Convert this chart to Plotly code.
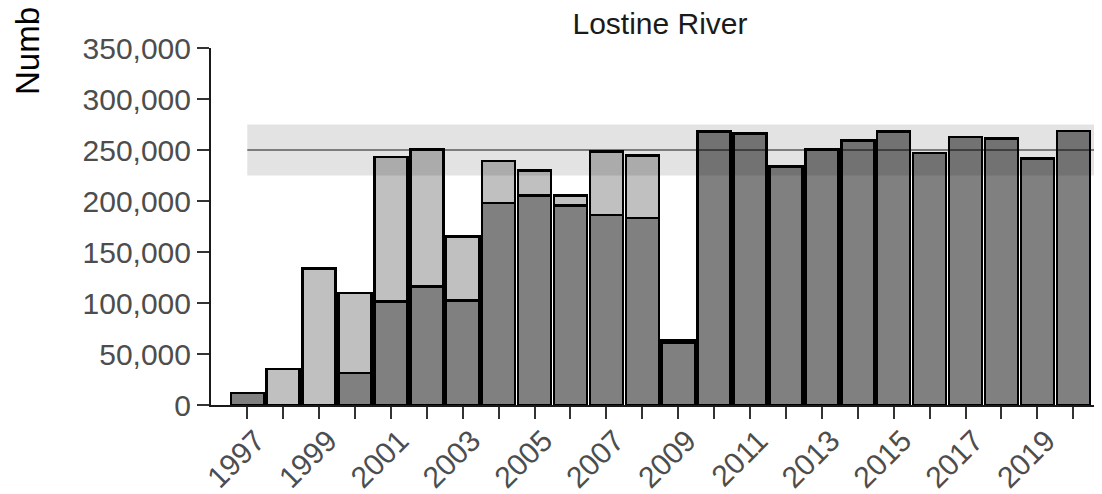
import plotly.graph_objects as go

years = list(range(1997, 2021))
# lower (dark) and upper (light) components of each bar
dark_values = [11800, 0, 0, 31400, 101300, 116300, 102600, 198000, 205500, 195400,
               186300, 183300, 60800, 268200, 266000, 233600, 250300, 259100, 268200,
               247000, 262700, 261400, 241800, 268600]
light_values = [0, 35300, 134000, 78400, 141800, 134000, 62700, 41200, 24500, 9800,
                62000, 61100, 2500, 0, 0, 0, 0, 0, 0, 0, 0, 0, 0, 0]
tick_years = years
tick_labels = [str(y) if y % 2 == 1 else "" for y in years]
y_ticks = [0, 50000, 100000, 150000, 200000, 250000, 300000, 350000]
goal = 250000
goal_low = 225000
goal_high = 275000
title_text = "Lostine River"
y_title = "Number of smolts released"

# the page body adds an 8px offset, so the figure is drawn 8px smaller
OFF = 8
W, H = 1102 - OFF, 494 - OFF
L, R, T, B = 211 - OFF, 0, 48 - OFF, 89
pw = W - L - R
ph = H - T - B

fig = go.Figure()
fig.add_trace(go.Bar(x=years, y=dark_values,
                     marker=dict(color="#808080", line=dict(color="black", width=2.5)),
                     showlegend=False))
fig.add_trace(go.Bar(x=years, y=light_values,
                     marker=dict(color="#C0C0C0", line=dict(color="black", width=2.5)),
                     showlegend=False))

fig.add_shape(type="rect", xref="x", yref="y", x0=years[0], x1=years[-1] + 1, y0=goal_low, y1=goal_high,
              fillcolor="rgba(0,0,0,0.11)", line=dict(width=0), layer="above")
fig.add_shape(type="line", xref="x", yref="y", x0=years[0], x1=years[-1] + 1, y0=goal, y1=goal,
              line=dict(color="rgba(0,0,0,0.45)", width=2), layer="above")

fig.add_annotation(text=y_title, textangle=-90, xref="paper", yref="paper",
                   x=(27 - OFF - L) / pw, y=(H - B - (97 - OFF)) / ph, xanchor="center", yanchor="bottom",
                   showarrow=False, font=dict(size=33, color="black", family="Liberation Sans, Arial"))

fig.update_layout(
    width=W, height=H,
    margin=dict(l=L, r=R, t=T, b=B),
    barmode="stack", bargap=0.08,
    plot_bgcolor="white", paper_bgcolor="white",
    font=dict(family="Liberation Sans, Arial", color="#4D4D4D"),
    title=dict(text=title_text, x=(660 - OFF - L) / pw, xref="paper", xanchor="center",
               y=1 - (23 - OFF) / H, yref="container", yanchor="middle",
               font=dict(size=30, color="#1A1A1A")),
    xaxis=dict(range=[1995.99, 2020.8], tickvals=tick_years, ticktext=tick_labels, tickangle=-45,
               showline=True, linecolor="#1A1A1A", linewidth=2, ticks="outside", ticklen=12,
               tickwidth=2, tickcolor="#333333", tickfont=dict(size=30, color="#4D4D4D"),
               ticklabelstandoff=-8, ticklabelshift=9,
               showgrid=False, zeroline=False, automargin=False),
    yaxis=dict(range=[0, 350000], tickvals=y_ticks, tickformat=",", showline=True, linecolor="#1A1A1A",
               linewidth=2, ticks="outside", ticklen=12, tickwidth=2, tickcolor="#333333",
               tickfont=dict(size=30, color="#4D4D4D"), showgrid=False, zeroline=False, automargin=False),
)

fig.write_html("out.html")
